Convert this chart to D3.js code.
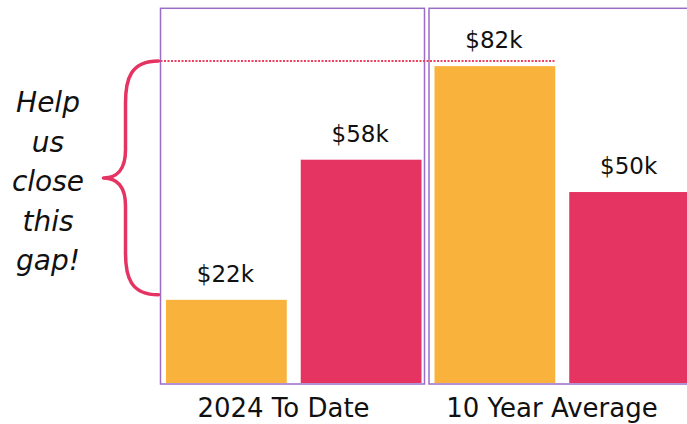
<!DOCTYPE html>
<html>
<head>
<meta charset="utf-8">
<script src="https://cdn.jsdelivr.net/npm/d3@7"></script>
<style>
  html, body { margin: 0; padding: 0; background: #fff; }
  svg { display: block; }
</style>
</head>
<body>
<div class="chart"></div>
<script>
var orange = '#f9b23b',
	red = '#e53462',
	frameColor = '#9b6cc6',
	dotColor = '#f0405f',
	textColor = '#111';

// data
var categories = ['2024 To Date', '10 Year Average'];
var series = ['current', 'average'];
var values = [[21.6, 58], [82.3, 49.6]];
var noteLines = ['Help', 'us', 'close', 'this', 'gap!'];

var width = 687, height = 424;
var svg = d3.select('.chart').append('svg')
	.attr('width', width)
	.attr('height', height)
	.attr('font-family', 'DejaVu Sans')
	.attr('fill', textColor);

var x0 = d3.scaleBand().domain(categories).range([160.5, 693]).paddingInner(0.01676);
var x1 = d3.scaleBand().domain(series).range([5.5, 261]).paddingInner(0.1037);
var y = d3.scaleLinear().domain([0, 97.4]).range([383, 8]);

// panels
var panel = svg.selectAll('g.panel')
	.data(categories)
	.enter().append('g')
	.attr('class', 'panel')
	.attr('transform', function(d) { return 'translate(' + x0(d) + ',0)'; });

panel.append('rect')
	.attr('x', 0)
	.attr('y', 8.3)
	.attr('width', x0.bandwidth())
	.attr('height', 384 - 8.3)
	.attr('fill', 'none')
	.attr('stroke', frameColor)
	.attr('stroke-width', 1.5);

panel.selectAll('rect.bar')
	.data(function(d, i) { return values[i].map(function(v, j) { return {key: series[j], value: v}; }); })
	.enter().append('rect')
	.attr('class', 'bar')
	.attr('x', function(d) { return x1(d.key); })
	.attr('y', function(d) { return y(d.value); })
	.attr('width', x1.bandwidth())
	.attr('height', function(d) { return y(0) - y(d.value); })
	.attr('fill', function(d) { return d.key === 'current' ? orange : red; });

panel.selectAll('text.value')
	.data(function(d, i) { return values[i].map(function(v, j) { return {key: series[j], value: v}; }); })
	.enter().append('text')
	.attr('class', 'value')
	.attr('x', function(d) { return x1(d.key) + x1.bandwidth() / 2 - 1; })
	.attr('y', function(d) { return y(d.value) - 18; })
	.attr('text-anchor', 'middle')
	.attr('font-size', '23px')
	.text(function(d) { return '$' + Math.round(d.value) + 'k'; });

panel.append('text')
	.attr('x', x0.bandwidth() / 2 - 9)
	.attr('y', 417)
	.attr('text-anchor', 'middle')
	.attr('font-size', '26px')
	.text(function(d) { return d; });

// gap line from the top of the average bar back to the first panel
var gapTop = Math.round(y(values[1][0]) - 5);
var gapLow = y(values[0][0]) - 5;
svg.append('line')
	.attr('x1', x0(categories[0]))
	.attr('x2', x0(categories[1]) + x1(series[0]) + x1.bandwidth())
	.attr('y1', gapTop)
	.attr('y2', gapTop)
	.attr('stroke', dotColor)
	.attr('stroke-width', 2)
	.attr('stroke-dasharray', '2,1.5');

// curly brace
var bx = x0(categories[0]) - 2, mid = (gapTop + gapLow) / 2;
var brace = 'M' + bx + ',' + gapTop +
	' C' + (bx - 28) + ',' + gapTop + ' ' + (bx - 33) + ',' + (gapTop + 18) + ' ' + (bx - 33) + ',' + (gapTop + 42) +
	' L' + (bx - 33) + ',' + (mid - 28) +
	' C' + (bx - 33) + ',' + (mid - 8) + ' ' + (bx - 42) + ',' + mid + ' ' + (bx - 55) + ',' + mid +
	' C' + (bx - 42) + ',' + mid + ' ' + (bx - 33) + ',' + (mid + 8) + ' ' + (bx - 33) + ',' + (mid + 28) +
	' L' + (bx - 33) + ',' + (gapLow - 42) +
	' C' + (bx - 33) + ',' + (gapLow - 18) + ' ' + (bx - 28) + ',' + gapLow + ' ' + bx + ',' + gapLow;
svg.append('path')
	.attr('d', brace)
	.attr('fill', 'none')
	.attr('stroke', red)
	.attr('stroke-width', 3.5)
	.attr('stroke-linecap', 'round')
	.attr('stroke-linejoin', 'round');

svg.append('g').selectAll('text')
	.data(noteLines)
	.enter().append('text')
	.attr('x', 48)
	.attr('y', function(d, i) { return 112 + i * 39.5; })
	.attr('text-anchor', 'middle')
	.attr('font-size', '28px')
	.attr('font-style', 'italic')
	.text(function(d) { return d; });
</script>
</body>
</html>
